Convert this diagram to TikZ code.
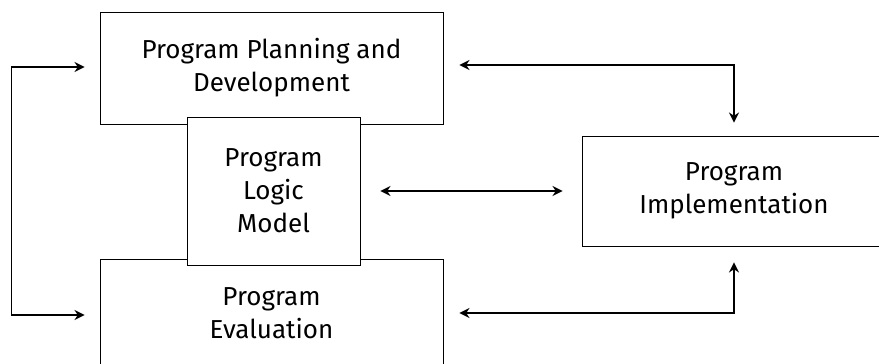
\documentclass[tikz,border=0pt]{standalone}
\usepackage{fontspec}
\setmainfont{Fira Sans}
\usetikzlibrary{arrows.meta}
\tikzset{box/.style={rectangle,draw,line width=0.9pt,fill=white,align=center,inner sep=0pt,
    font=\fontsize{26}{33}\selectfont},
  link/.style={line width=1.8pt,{Stealth[length=10pt,width=10pt]}-{Stealth[length=10pt,width=10pt]}}}

\begin{document}
\begin{tikzpicture}[x=1pt,y=1pt]
            \clip (0,0) rectangle (879,364);
            \fill[white] (0,0) rectangle (879,364);
            \node[box,minimum width=343pt,minimum height=112pt] (plan) at (271.5,296) {Program Planning and\\Development};
            \node[box,minimum width=343pt,minimum height=108pt] (eval) at (271.5,51) {Program\\Evaluation};
            \node[box,minimum width=173pt,minimum height=148pt] (logic) at (273.5,173) {Program\\Logic\\Model};
            \node[box,minimum width=304pt,minimum height=110pt] (impl) at (734,173) {Program\\Implementation};

            \path[draw,link] ([xshift=16pt,yshift=3pt]plan.east) -| ([yshift=13pt]impl.north);
            \path[draw,link] ([xshift=16pt]eval.east) -| ([yshift=-16pt]impl.south);
            \path[draw,link] ([xshift=20pt]logic.east) -- ([xshift=-19pt]impl.west);
            \path[draw,link] ([xshift=-15pt,yshift=1pt]plan.west) -- ([xshift=-88pt,yshift=1pt]plan.west)
              |- ([xshift=-15pt,yshift=-2pt]eval.west);
\end{tikzpicture}
\end{document}
